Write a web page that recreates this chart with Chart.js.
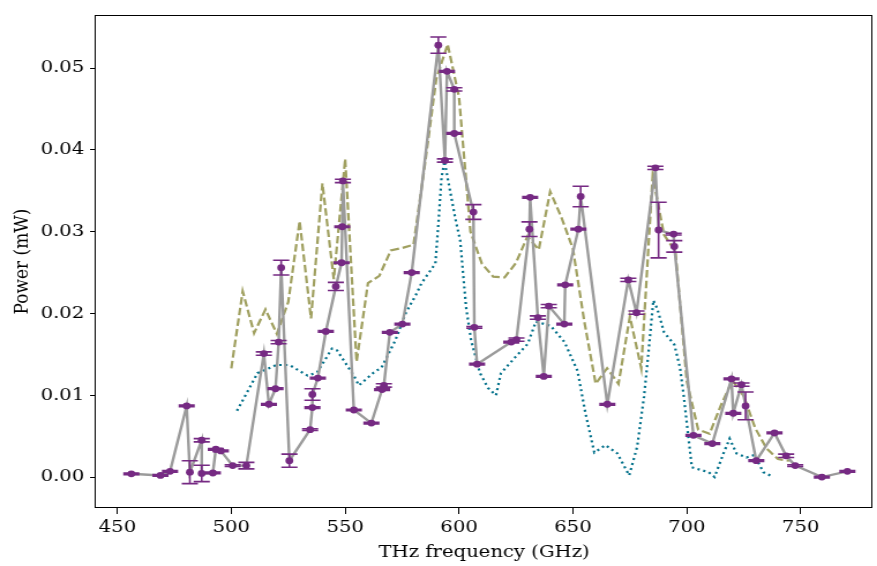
<!DOCTYPE html>
<html>
<head>
<meta charset="utf-8">
<script src="https://cdn.jsdelivr.net/npm/chart.js@4.4.0/dist/chart.umd.min.js"></script>
<style>
  body { margin: 0; background: #fff; overflow: hidden; }
  /* the figure is drawn narrow and widened to the page width */
  canvas { display: block; transform: scaleX(1.154); transform-origin: 0 0; }
</style>
</head>
<body>
<canvas id="powerChart" width="760" height="566"></canvas>
<script>
// measured points (GHz, mW) with their power uncertainty
const measFreq = [456.1, 468.9, 473.1, 480.4, 481.8, 487.0, 487.0, 491.9, 493.2, 495.4,
    500.6, 506.6, 514.3, 516.5, 519.4, 520.8, 521.9, 525.5, 534.6, 535.6,
    535.6, 538.0, 541.5, 545.9, 548.4, 548.7, 549.0, 553.8, 561.5, 566.2,
    567.0, 569.6, 575.1, 579.2, 590.9, 593.8, 594.7, 597.9, 597.9, 606.3,
    606.7, 607.9, 622.9, 625.2, 630.9, 631.2, 634.6, 637.2, 639.4, 646.2,
    646.6, 652.4, 653.4, 665.1, 674.3, 677.9, 686.2, 687.6, 694.2, 694.5,
    702.9, 711.2, 719.6, 720.4, 724.0, 725.8, 730.5, 738.5, 743.6, 747.6,
    759.3, 770.5];
const measPower = [0.0004, 0.0002, 0.0007, 0.0087, 0.0006, 0.0045, 0.00045, 0.0005, 0.0034, 0.0032,
    0.0014, 0.0014, 0.0151, 0.0089, 0.0108, 0.0165, 0.0256, 0.0020, 0.0058, 0.0085,
    0.0101, 0.0121, 0.0178, 0.0233, 0.0262, 0.0306, 0.0362, 0.0082, 0.0066, 0.0107,
    0.0112, 0.0177, 0.0187, 0.0250, 0.0528, 0.0387, 0.0496, 0.0474, 0.0420, 0.0324,
    0.0183, 0.0138, 0.0165, 0.0168, 0.0303, 0.0342, 0.0195, 0.0123, 0.0209, 0.0187,
    0.0235, 0.0303, 0.0343, 0.0089, 0.0241, 0.0201, 0.0378, 0.0302, 0.0297, 0.0282,
    0.0051, 0.0041, 0.0120, 0.0078, 0.0113, 0.0087, 0.0020, 0.0054, 0.0026, 0.0014,
    0.0000, 0.0007];
const measErr = [0.0001, 0.0001, 0.0001, 0.0001, 0.0014, 0.0002, 0.0010, 0.0001, 0.0001, 0.0001,
    0.0001, 0.0004, 0.0002, 0.0001, 0.0001, 0.0002, 0.0009, 0.0008, 0.0001, 0.0001,
    0.0007, 0.0001, 0.0001, 0.0005, 0.0001, 0.0001, 0.0002, 0.0001, 0.0001, 0.0001,
    0.0002, 0.0001, 0.0001, 0.0001, 0.0010, 0.0002, 0.0001, 0.0002, 0.0001, 0.0009,
    0.0001, 0.0001, 0.0001, 0.0002, 0.0009, 0.0001, 0.0002, 0.0001, 0.0002, 0.0001,
    0.0001, 0.0001, 0.00125, 0.0001, 0.0002, 0.0002, 0.0002, 0.0034, 0.0001, 0.0007,
    0.0001, 0.0001, 0.0001, 0.0001, 0.0002, 0.0017, 0.0001, 0.0001, 0.0002, 0.0001,
    0.0001, 0.0001];

// model curve, every 5 GHz
const modelFreq = [500, 505, 510, 515, 520, 525, 530, 535, 540, 545,
    550, 555, 560, 565, 570, 575, 580, 585, 590, 595,
    600, 605, 610, 615, 620, 625, 630, 635, 640, 645,
    650, 655, 660, 665, 670, 675, 680, 685, 690, 695,
    700, 705, 710, 715, 720, 725, 730, 735, 740, 745];
const modelPower = [0.0133, 0.0227, 0.0176, 0.0205, 0.0175, 0.0214, 0.0313, 0.0194, 0.0359, 0.0242,
    0.0389, 0.0141, 0.0237, 0.0246, 0.0277, 0.0280, 0.0284, 0.0382, 0.0487, 0.0529,
    0.0464, 0.0300, 0.0261, 0.0245, 0.0244, 0.0262, 0.0294, 0.0278, 0.0349, 0.0317,
    0.0279, 0.0190, 0.0114, 0.0133, 0.0114, 0.0196, 0.0133, 0.0368, 0.0296, 0.0276,
    0.0117, 0.0058, 0.0053, 0.0088, 0.0118, 0.0099, 0.0060, 0.0035, 0.0022, 0.0020];

// simulated curve
const simFreq = [502.5, 511.5, 519.8, 525.5, 533.5, 537.7, 544.2, 546.4, 553.8, 556.0,
    562.6, 566.0, 572.0, 576.5, 581.3, 583.5, 589.6, 591.0, 592.3, 593.6,
    598.3, 600.5, 603.1, 605.3, 609.2, 612.7, 616.2, 618.4, 624.5, 630.2,
    633.7, 640.2, 646.3, 652.0, 655.5, 659.4, 664.3, 669.5, 674.7, 678.2,
    681.2, 683.4, 685.3, 687.0, 690.0, 694.5, 697.0, 698.7, 700.0, 702.2,
    705.8, 709.6, 712.2, 716.1, 718.8, 721.8, 726.2, 729.7, 733.6, 738.0];
const simPower = [0.0081, 0.0127, 0.0137, 0.0137, 0.0124, 0.0128, 0.0157, 0.0155, 0.0124, 0.0112,
    0.0128, 0.0134, 0.0167, 0.0200, 0.0224, 0.0237, 0.0261, 0.0313, 0.0366, 0.0386,
    0.0317, 0.0289, 0.0207, 0.0167, 0.0127, 0.0109, 0.0100, 0.0127, 0.0146, 0.0163,
    0.0190, 0.0185, 0.0165, 0.0130, 0.0078, 0.0030, 0.0039, 0.0029, 0.0002, 0.0037,
    0.0098, 0.0159, 0.0216, 0.0206, 0.0177, 0.0162, 0.0134, 0.0098, 0.0066, 0.0012,
    0.0009, 0.0006, 0.0000, 0.0029, 0.0047, 0.0029, 0.0024, 0.0027, 0.0006, 0.0000];

const xTicks = [450, 500, 550, 600, 650, 700, 750];
const yTicks = [0.00, 0.01, 0.02, 0.03, 0.04, 0.05];

const purple = '#762a83';
const grey = '#9b9b9b';
const olive = '#a0a060';
const teal = '#00708a';
const font = { family: 'DejaVu Serif', size: 17 };

const toPoints = (xs, ys) => xs.map((x, i) => ({ x: x, y: ys[i] }));

// vertical error bars with caps on the measured points
const errorBars = {
    id: 'errorBars',
    afterDatasetsDraw(chart) {
        const { ctx, scales: { x, y } } = chart;
        ctx.save();
        ctx.strokeStyle = purple;
        ctx.lineWidth = 1.6;
        measFreq.forEach((f, i) => {
            const px = x.getPixelForValue(f);
            const top = y.getPixelForValue(measPower[i] + measErr[i]);
            const bot = y.getPixelForValue(measPower[i] - measErr[i]);
            ctx.beginPath();
            ctx.moveTo(px, top);
            ctx.lineTo(px, bot);
            ctx.moveTo(px - 7, top);
            ctx.lineTo(px + 7, top);
            ctx.moveTo(px - 7, bot);
            ctx.lineTo(px + 7, bot);
            ctx.stroke();
        });
        ctx.restore();
    }
};

// box around the plot area
const frame = {
    id: 'frame',
    afterDraw(chart) {
        const { ctx, chartArea: a } = chart;
        ctx.save();
        ctx.strokeStyle = '#000';
        ctx.lineWidth = 1;
        ctx.strokeRect(Math.round(a.left) - 0.5, Math.round(a.top) + 0.5,
            Math.round(a.right - a.left), Math.round(a.bottom - a.top) - 1);
        ctx.restore();
    }
};

const ctx = document.getElementById('powerChart').getContext('2d');
const powerChart = new Chart(ctx, {
    type: 'scatter',
    data: {
        datasets: [
            {
                label: 'Measured',
                data: toPoints(measFreq, measPower),
                showLine: true,
                borderColor: grey,
                borderWidth: 2.4,
                pointRadius: 3.4,
                pointBorderWidth: 0,
                pointBackgroundColor: purple,
                pointBorderColor: purple
            },
            {
                label: 'Model',
                data: toPoints(modelFreq, modelPower),
                showLine: true,
                borderColor: olive,
                borderWidth: 2.2,
                borderDash: [7.5, 3.2],
                pointRadius: 0
            },
            {
                label: 'Simulation',
                data: toPoints(simFreq, simPower),
                showLine: true,
                borderColor: teal,
                borderWidth: 2.2,
                borderDash: [2, 3.2],
                pointRadius: 0
            }
        ]
    },
    options: {
        responsive: false,
        animation: false,
        devicePixelRatio: 1,
        layout: { padding: { top: 14, right: 0, left: 0, bottom: 0 } },
        plugins: {
            legend: { display: false },
            tooltip: { enabled: false }
        },
        scales: {
            x: {
                type: 'linear',
                min: 440.5,
                max: 781.5,
                afterBuildTicks: s => { s.ticks = xTicks.map(v => ({ value: v })); },
                afterFit: s => { s.height = 58; },
                grid: { drawOnChartArea: false, tickLength: 6, tickColor: '#000' },
                border: { display: false },
                ticks: { color: '#000', font: font, padding: 3, maxRotation: 0 },
                title: {
                    display: true,
                    text: 'THz frequency (GHz)',
                    color: '#000',
                    font: font,
                    padding: { top: 0, bottom: 3 }
                }
            },
            y: {
                type: 'linear',
                min: -0.00378,
                max: 0.05646,
                afterBuildTicks: s => { s.ticks = yTicks.map(v => ({ value: v })); },
                afterFit: s => { s.width = 83; },
                grid: { drawOnChartArea: false, tickLength: 5, tickColor: '#000' },
                border: { display: false },
                ticks: { color: '#000', font: font, padding: 5, callback: v => v.toFixed(2) },
                title: {
                    display: true,
                    text: 'Power (mW)',
                    color: '#000',
                    font: font,
                    padding: { top: 9, bottom: 0 }
                }
            }
        }
    },
    plugins: [errorBars, frame]
});
</script>
</body>
</html>
